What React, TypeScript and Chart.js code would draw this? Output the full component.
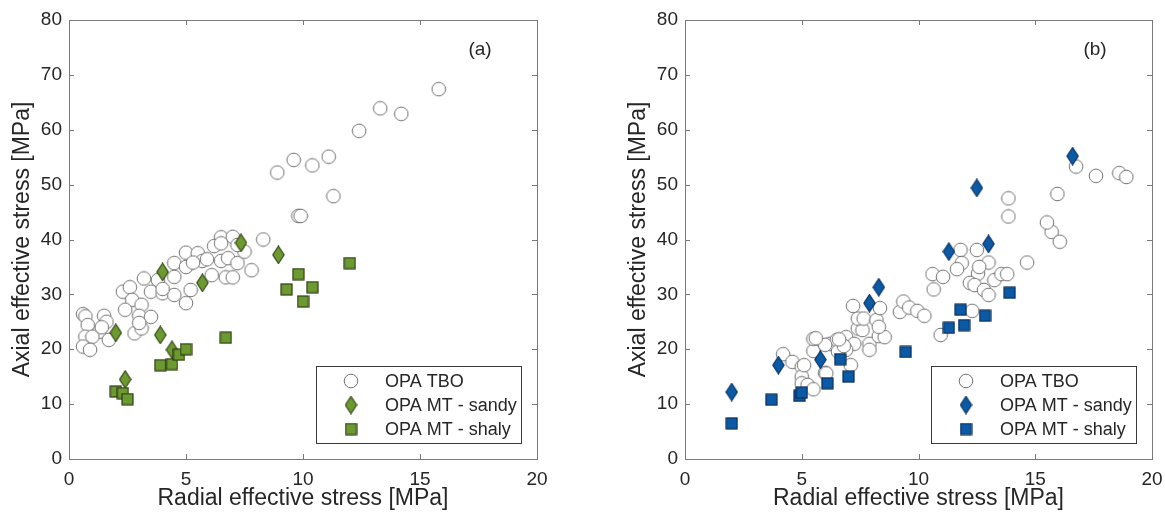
import React, { useEffect, useRef } from "react";
import { Chart, registerables } from "chart.js";

Chart.register(...registerables);

const FONT = "'Liberation Sans', Arial, Helvetica, sans-serif";

// ---------- Data ----------
const xTickValues = [0, 5, 10, 15, 20];
const yTickValues = [0, 10, 20, 30, 40, 50, 60, 70, 80];
const xTitle = "Radial effective stress [MPa]";
const yTitle = "Axial effective stress [MPa]";
const seriesNames = ["OPA TBO", "OPA MT - sandy", "OPA MT - shaly"];

// Panel (a)
const tboA: number[][] = [
  [0.6, 26.4], [0.7, 26.0], [1.5, 26.1], [1.6, 25.0], [0.8, 24.4], [1.3, 23.2], [1.7, 21.7],
  [0.7, 22.3], [1.0, 22.3], [0.6, 20.5], [0.9, 19.9], [1.4, 24.0],
  [2.3, 30.5], [2.6, 31.3], [2.7, 29.0], [3.1, 28.1], [2.4, 27.2], [3.0, 26.1], [3.5, 25.9],
  [2.8, 22.9], [3.1, 23.8], [3.0, 24.8],
  [3.2, 32.9], [3.8, 32.6], [4.5, 33.2], [3.5, 30.5], [4.0, 30.2], [4.5, 29.9], [5.2, 30.8],
  [5.0, 28.4], [4.0, 31.0],
  [4.5, 35.7], [5.0, 35.0], [5.0, 37.6], [5.5, 37.5], [5.7, 36.1], [5.3, 35.8], [6.1, 33.5],
  [6.5, 36.1], [6.8, 36.6], [7.2, 35.7], [7.8, 34.4], [6.7, 33.1], [7.0, 33.1], [6.5, 40.4],
  [7.0, 40.5], [6.2, 38.8], [6.5, 39.3], [7.5, 37.8], [7.2, 39.0], [5.9, 36.4],
  [8.3, 40.0], [9.8, 44.3], [9.9, 44.3], [8.9, 52.2], [9.6, 54.5], [10.4, 53.5], [11.1, 55.1],
  [11.3, 47.9], [12.4, 59.8], [13.3, 63.9], [14.2, 62.9], [15.8, 67.4],
];
const sandyA: number[][] = [
  [2.0, 23.0], [2.4, 14.5], [3.9, 22.6], [4.0, 34.1], [4.4, 19.9], [5.7, 32.1], [7.35, 39.4], [8.95, 37.2],
];
const shalyA: number[][] = [
  [2.0, 12.3], [2.3, 12.0], [2.5, 10.9], [3.9, 17.1], [4.4, 17.3], [4.7, 19.0], [5.0, 20.0],
  [6.7, 22.1], [9.3, 30.9], [9.8, 33.7], [10.4, 31.3], [10.0, 28.7], [12.0, 35.7],
];

// Panel (b)
const tboB: number[][] = [
  [4.2, 19.1], [4.6, 17.7], [5.0, 16.8], [5.5, 19.7], [5.5, 21.9], [5.0, 15.0], [5.0, 13.8],
  [5.25, 13.5], [5.5, 12.7], [6.0, 15.7], [6.2, 21.0], [6.5, 21.7], [6.9, 22.2], [7.25, 21.0],
  [6.9, 19.9], [7.1, 17.1], [7.9, 21.0], [7.9, 19.9], [8.3, 22.4], [8.55, 22.2], [7.4, 23.8],
  [7.6, 23.5], [7.4, 25.6], [7.65, 25.6], [8.2, 25.3], [8.3, 24.1], [7.2, 27.9], [8.35, 27.5],
  [9.2, 26.8], [9.35, 28.7], [9.6, 27.6], [9.95, 27.0], [10.25, 26.1], [10.6, 33.7], [11.05, 33.2],
  [10.65, 30.9], [10.95, 22.6], [11.8, 38.1], [11.85, 35.7], [11.65, 34.6], [12.5, 38.1],
  [13.0, 35.8], [12.55, 33.8], [12.2, 32.1], [12.4, 31.7], [12.8, 30.8], [13.0, 29.9],
  [13.25, 32.6], [13.55, 33.7], [13.8, 33.7], [14.65, 35.8], [12.3, 27.0], [15.7, 41.4],
  [16.05, 39.6], [15.5, 43.1], [13.85, 47.5], [13.85, 44.2], [15.95, 48.3], [16.75, 53.3],
  [17.6, 51.6], [18.6, 52.1], [18.9, 51.4], [12.6, 35.0], [6.55, 19.6], [6.8, 20.6], [6.0, 20.8],
  [5.6, 22.0], [6.6, 21.8], [5.1, 17.1], [6.05, 15.6],
];
const sandyB: number[][] = [
  [2.0, 12.2], [4.0, 17.1], [5.8, 18.1], [7.9, 28.4], [8.3, 31.3], [11.3, 37.8], [12.5, 49.4],
  [13.0, 39.2], [16.6, 55.2],
];
const shalyB: number[][] = [
  [2.0, 6.5], [3.7, 10.8], [4.9, 11.5], [5.0, 12.1], [6.1, 13.8], [6.65, 18.2], [7.0, 15.0],
  [9.45, 19.5], [11.3, 23.9], [11.95, 24.4], [11.8, 27.2], [12.85, 26.1], [13.9, 30.3],
];

// ---------- Marker images ----------
function makeDiamond(fill: string, stroke: string): HTMLCanvasElement {
  const c = document.createElement("canvas");
  const w = 13, h = 19;
  c.width = w; c.height = h;
  const ctx = c.getContext("2d")!;
  ctx.beginPath();
  ctx.moveTo(w / 2, 0.8);
  ctx.lineTo(w - 0.8, h / 2);
  ctx.lineTo(w / 2, h - 0.8);
  ctx.lineTo(0.8, h / 2);
  ctx.closePath();
  ctx.fillStyle = fill; ctx.fill();
  ctx.strokeStyle = stroke; ctx.lineWidth = 1.1; ctx.stroke();
  return c;
}
function makeSquare(fill: string, stroke: string): HTMLCanvasElement {
  const c = document.createElement("canvas");
  const s = 13;
  c.width = s; c.height = s;
  const ctx = c.getContext("2d")!;
  ctx.fillStyle = fill; ctx.fillRect(1, 1, s - 2, s - 2);
  ctx.strokeStyle = stroke; ctx.lineWidth = 1.2; ctx.strokeRect(1, 1, s - 2, s - 2);
  return c;
}
function makeCircle(): HTMLCanvasElement {
  const c = document.createElement("canvas");
  const s = 16;
  c.width = s; c.height = s;
  const ctx = c.getContext("2d")!;
  ctx.beginPath();
  ctx.arc(s / 2, s / 2, 6.8, 0, Math.PI * 2);
  ctx.fillStyle = "#ffffff"; ctx.fill();
  ctx.strokeStyle = "#727272"; ctx.lineWidth = 1; ctx.stroke();
  return c;
}

// ---------- Plugin: frame, inward ticks, legend, panel label ----------
const framePlugin = {
  id: "matFrame",
  beforeDatasetsDraw(chart: any) {
    const { ctx, chartArea } = chart;
    const { left, right, top, bottom } = chartArea;
    ctx.save();
    ctx.strokeStyle = "#7a7a7a";
    ctx.lineWidth = 1;
    ctx.strokeRect(Math.round(left) + 0.5, Math.round(top) + 0.5, Math.round(right - left), Math.round(bottom - top));
    const tl = 5;
    ctx.beginPath();
    chart.scales.x.ticks.forEach((t: any) => {
      const px = Math.round(chart.scales.x.getPixelForValue(t.value)) + 0.5;
      ctx.moveTo(px, bottom); ctx.lineTo(px, bottom - tl);
      ctx.moveTo(px, top); ctx.lineTo(px, top + tl);
    });
    chart.scales.y.ticks.forEach((t: any) => {
      const py = Math.round(chart.scales.y.getPixelForValue(t.value)) + 0.5;
      ctx.moveTo(left, py); ctx.lineTo(left + tl, py);
      ctx.moveTo(right, py); ctx.lineTo(right - tl, py);
    });
    ctx.stroke();
    ctx.restore();
  },
  afterDraw(chart: any, _args: any, opts: any) {
    const { ctx, chartArea } = chart;
    const { right, top, bottom } = chartArea;
    ctx.save();
    // panel label
    ctx.fillStyle = "#262626";
    ctx.font = `19px ${FONT}`;
    ctx.textAlign = "center";
    ctx.textBaseline = "middle";
    ctx.fillText(opts.label, right - 57, top + 30);
    // legend box
    const bw = 205, bh = 77;
    const bx = right - 16 - bw, by = bottom - 16 - bh;
    ctx.fillStyle = "#ffffff";
    ctx.fillRect(bx, by, bw, bh);
    ctx.strokeStyle = "#3a3a3a";
    ctx.lineWidth = 1;
    ctx.strokeRect(Math.round(bx) + 0.5, Math.round(by) + 0.5, bw, bh);
    ctx.font = `18px ${FONT}`;
    ctx.textAlign = "left";
    ctx.textBaseline = "middle";
    chart.data.datasets.forEach((ds: any, i: number) => {
      const cy = by + 15 + i * 24;
      const img = ds.pointStyle as HTMLCanvasElement;
      ctx.drawImage(img, bx + 35 - img.width / 2, cy - img.height / 2);
      ctx.fillStyle = "#262626";
      ctx.fillText(ds.label, bx + 69, cy + 1);
    });
    ctx.restore();
  },
};

function toPoints(arr: number[][]) {
  return arr.map(([x, y]) => ({ x, y }));
}

type PanelProps = {
  left: number;
  width: number;
  rightPad: number;
  label: string;
  tbo: number[][];
  sandy: number[][];
  shaly: number[][];
  fill: string;
  stroke: string;
};

function Panel(p: PanelProps) {
  const ref = useRef<HTMLCanvasElement | null>(null);
  useEffect(() => {
    if (!ref.current) return;
    const circle = makeCircle();
    const diamond = makeDiamond(p.fill, p.stroke);
    const square = makeSquare(p.fill, p.stroke);
    const tickFont = { family: FONT, size: 19 };
    const titleFont = { family: FONT, size: 23 };
    const chart = new Chart(ref.current, {
      type: "scatter",
      data: {
        datasets: [
          { label: seriesNames[0], data: toPoints(p.tbo), pointStyle: circle as any, order: 3, pointRadius: 7 },
          { label: seriesNames[1], data: toPoints(p.sandy), pointStyle: diamond as any, order: 2, pointRadius: 8 },
          { label: seriesNames[2], data: toPoints(p.shaly), pointStyle: square as any, order: 1, pointRadius: 7 },
        ],
      },
      options: {
        responsive: false,
        animation: false,
        devicePixelRatio: 1,
        layout: { autoPadding: false, padding: { left: 0, top: 20, right: p.rightPad, bottom: 0 } },
        plugins: {
          legend: { display: false },
          tooltip: { enabled: false },
          matFrame: { label: p.label },
        } as any,
        scales: {
          x: {
            type: "linear",
            min: 0,
            max: 20,
            afterBuildTicks: (s: any) => { s.ticks = xTickValues.map((v) => ({ value: v })); },
            ticks: { font: tickFont, color: "#262626", padding: 9, maxRotation: 0 },
            grid: { display: false, drawTicks: false },
            border: { display: false },
            title: { display: true, text: xTitle, font: titleFont, color: "#262626", padding: { top: 0, bottom: 0 } },
            afterFit: (s: any) => { s.height = 53; s.paddingLeft = 0; s.paddingRight = 0; },
          },
          y: {
            type: "linear",
            min: 0,
            max: 80,
            afterBuildTicks: (s: any) => { s.ticks = yTickValues.map((v) => ({ value: v })); },
            ticks: { font: tickFont, color: "#262626", padding: 7 },
            grid: { display: false, drawTicks: false },
            border: { display: false },
            title: { display: true, text: yTitle, font: titleFont, color: "#262626", padding: { top: 9, bottom: 0 } },
            afterFit: (s: any) => { s.width = 69; s.paddingTop = 0; s.paddingBottom = 0; },
          },
        },
      },
      plugins: [framePlugin as any],
    });
    return () => chart.destroy();
  }, []);
  return (
    <canvas
      ref={ref}
      width={p.width}
      height={512}
      style={{ position: "absolute", left: p.left, top: 0, width: p.width, height: 512 }}
    />
  );
}

export default function App() {
  return (
    <div style={{ position: "fixed", left: 0, top: 0, width: 1165, height: 512, background: "#ffffff", overflow: "hidden" }}>
      <Panel left={0} width={580} rightPad={43} label="(a)" tbo={tboA} sandy={sandyA} shaly={shalyA} fill="#6c9a30" stroke="#2b3d10" />
      <Panel left={616} width={549} rightPad={13} label="(b)" tbo={tboB} sandy={sandyB} shaly={shalyB} fill="#0b5aa6" stroke="#082c5a" />
    </div>
  );
}
